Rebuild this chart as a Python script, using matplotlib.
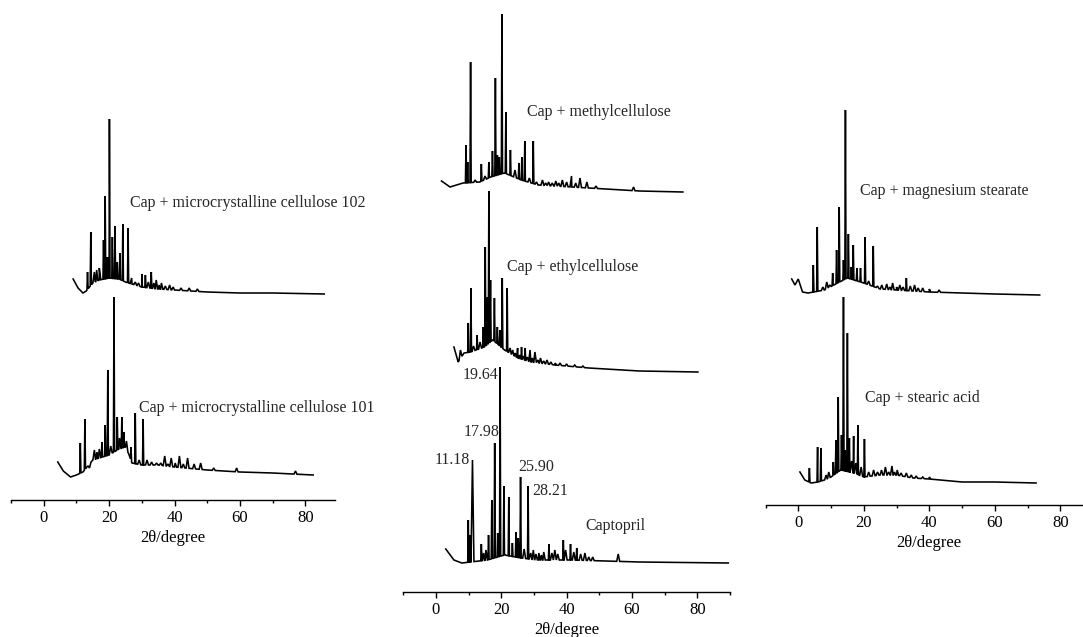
import numpy as np
import matplotlib.pyplot as plt
from matplotlib.ticker import MultipleLocator

plt.rcParams['font.family'] = ['Liberation Serif', 'DejaVu Serif']

# --- left panel: Cap + microcrystalline cellulose 102 / 101 ---
mcc102_base_x = [9.0, 10.5, 12.0, 13.0, 15.0, 17.0, 20.0, 23.0, 25.0, 27.0, 30.0, 35.0, 40.0, 45.0, 50.0, 60.0, 70.0, 85.8]
mcc102_base_y = [15, 6, 1, 3, 11, 14, 16, 15, 12, 10, 7, 5, 4, 3, 2, 1, 1, 0]
mcc102_peak_x = [13.4, 14.4, 15.5, 16.2, 17.0, 18.3, 18.8, 19.5, 20.1, 21.0, 21.8, 22.5, 23.3, 24.2, 25.8, 26.9,
                 28.0, 29.0, 30.0, 31.1, 32.0, 32.9, 33.7, 34.4, 35.3, 36.0, 37.2, 38.5, 39.6, 42.0, 44.5, 47.0]
mcc102_peak_y = [22, 62, 22, 24, 26, 54, 98, 37, 175, 57, 68, 32, 41, 70, 66, 16,
                 12, 11, 20, 19, 12, 22, 11, 14, 9, 11, 8, 9, 7, 6, 6, 5]

mcc101_base_x = [4.3, 6.0, 8.2, 10.0, 12.0, 15.0, 20.0, 23.0, 25.0, 26.0, 27.0, 30.0, 35.0, 40.0, 50.0, 60.0, 70.0, 82.4]
mcc101_base_y = [14, 5, -1, 1, 4, 16, 21, 27, 29, 22, 13, 11, 11, 9, 6, 4, 3, 1]
mcc101_peak_x = [11.2, 12.6, 14.0, 15.5, 16.3, 17.0, 17.8, 18.8, 19.6, 20.5, 21.5, 22.5, 23.2, 23.9, 24.5, 25.3,
                 26.7, 28.0, 29.2, 30.4, 31.6, 33.0, 34.5, 35.8, 37.0, 38.0, 39.0, 40.2, 41.5, 42.7, 44.0, 46.0,
                 48.0, 52.0, 59.0, 77.0]
mcc101_peak_y = [33, 57, 8, 26, 24, 27, 34, 51, 106, 30, 179, 59, 38, 59, 44, 35,
                 29, 63, 16, 57, 16, 14, 13, 13, 20, 12, 18, 13, 20, 12, 18, 12,
                 13, 8, 8, 5]

# --- middle panel: methylcellulose / ethylcellulose / captopril ---
mc_base_x = [1.7, 4.3, 8.3, 13.4, 16.8, 21.0, 26.1, 31.3, 41.6, 52.0, 62.3, 75.6]
mc_base_y = [11, 5, 9, 10, 15, 19, 12, 7, 5, 3, 1, 0]
mc_peak_x = [9.2, 9.7, 10.6, 12.0, 13.9, 15.0, 16.2, 17.3, 18.2, 18.8, 19.4, 20.2, 21.4, 22.8, 24.2, 25.4, 26.3,
             27.2, 28.6, 29.8, 30.8, 32.6, 33.6, 34.5, 35.6, 36.7, 37.6, 38.7, 40.0, 41.5, 42.8, 44.1, 46.2,
             49.0, 60.5]
mc_peak_y = [47, 30, 130, 12, 28, 16, 30, 41, 114, 37, 35, 178, 80, 42, 22, 29, 35,
             51, 14, 51, 10, 12, 9, 10, 9, 11, 9, 12, 10, 16, 9, 14, 10,
             6, 5]

ec_base_x = [5.5, 6.8, 8.6, 10.6, 14.8, 17.4, 21.0, 25.1, 29.2, 36.5, 46.8, 62.3, 80.2]
ec_base_y = [25, 10, 19, 20, 25, 32, 22, 14, 10, 7, 4, 1, 0]
ec_peak_x = [7.5, 9.9, 10.7, 11.5, 12.6, 13.5, 14.5, 15.1, 15.7, 16.2, 16.7, 17.9, 18.8, 19.6, 20.3, 21.8, 22.7,
             23.5, 24.3, 25.0, 25.6, 26.2, 26.8, 27.3, 28.0, 28.8, 29.5, 30.3, 31.2, 32.0, 33.0, 34.0, 35.2,
             36.5, 38.0, 40.0, 42.5, 45.0]
ec_peak_y = [22, 49, 84, 26, 37, 30, 45, 125, 75, 181, 92, 74, 45, 42, 94, 84, 24,
             22, 19, 24, 17, 25, 16, 24, 15, 22, 14, 20, 12, 14, 11, 12, 10,
             9, 9, 8, 7, 6]

cap_base_x = [3.0, 5.5, 7.9, 10.6, 15.8, 21.0, 26.1, 31.3, 41.6, 52.0, 62.3, 89.5]
cap_base_y = [14, 3, 0, 1, 3, 8, 5, 3, 3, 2, 1, 0]
cap_peak_x = [9.9, 10.4, 11.18, 13.9, 14.6, 15.3, 16.1, 17.1, 17.98, 18.9, 19.64, 20.8, 22.3, 23.4, 24.5, 25.2,
              25.90, 27.0, 28.21, 29.0, 29.8, 30.6, 31.5, 32.3, 33.0, 34.6, 35.5, 36.4, 37.3, 39.0, 39.7, 41.2,
              42.2, 43.1, 44.3, 45.6, 46.8, 48.0, 55.8]
cap_peak_y = [43, 28, 103, 19, 10, 13, 28, 63, 120, 30, 196, 77, 66, 20, 31, 25,
              86, 14, 77, 10, 13, 9, 10, 8, 11, 19, 10, 13, 9, 23, 13, 19,
              11, 15, 9, 10, 6, 6, 9]
cap_marked = [11.18, 17.98, 19.64, 25.90, 28.21]

# --- right panel: magnesium stearate / stearic acid ---
mgst_base_x = [-2.0, -1.0, 0.0, 1.3, 3.0, 8.0, 12.0, 15.0, 20.0, 25.0, 30.0, 40.0, 50.0, 60.0, 73.7]
mgst_base_y = [16, 10, 16, 3, 2, 5, 12, 17, 12, 6, 5, 3, 2, 1, 0]
mgst_peak_x = [4.6, 5.8, 7.5, 8.7, 9.6, 10.5, 11.7, 12.5, 13.8, 14.4, 15.3, 16.2, 16.8, 17.9, 19.0, 20.4, 21.5,
               22.9, 24.2, 25.5, 27.0, 28.0, 28.8, 30.0, 31.0, 32.0, 33.0, 34.2, 35.5, 36.6, 38.0, 40.0, 43.0]
mgst_peak_y = [30, 68, 8, 13, 10, 22, 45, 88, 35, 185, 61, 28, 50, 27, 27, 58, 14,
               49, 9, 10, 11, 8, 12, 8, 10, 8, 17, 9, 10, 7, 7, 6, 5]

sa_base_x = [0.5, 2.0, 3.9, 6.0, 8.0, 10.0, 13.0, 17.0, 20.0, 25.0, 30.0, 35.0, 40.0, 50.0, 60.0, 72.6]
sa_base_y = [11, 3, 0, 1, 3, 6, 13, 10, 6, 8, 8, 5, 4, 1, 1, 0]
sa_peak_x = [3.4, 5.9, 6.9, 8.5, 9.3, 10.7, 11.5, 12.2, 13.2, 13.8, 14.3, 15.0, 15.6, 16.3, 16.9, 17.6, 18.2,
             19.2, 20.2, 21.5, 23.0, 24.2, 25.4, 26.6, 27.6, 28.6, 29.4, 30.2, 31.4, 33.0, 34.5, 36.0, 38.0,
             40.0]
sa_peak_y = [15, 36, 35, 8, 11, 21, 43, 86, 48, 186, 33, 150, 45, 22, 47, 20, 58,
             16, 44, 11, 13, 11, 13, 16, 11, 17, 11, 13, 10, 10, 8, 7, 6,
             6]

# vertical stacking offsets of each pattern
left_offsets = [206, 24]
mid_offsets = [400, 220, 29]
right_offsets = [210, 22]


def pattern(base_x, base_y, peak_x, peak_y):
    """Join the background points and the reflections into one trace."""
    bx = np.asarray(base_x, float)
    by = np.asarray(base_y, float)
    xs, ys = list(bx), list(by)
    for p, h in zip(peak_x, peak_y):
        foot = np.interp(p, bx, by)
        # strong reflections are sharp, weak ones are drawn as low bumps
        w = 0.18 if h - foot > 12 else 0.45
        if p == 11.18:
            w = 0.45
        for dx in (-w, w):
            xs.append(p + dx)
            ys.append(np.interp(p + dx, bx, by))
        xs.append(p)
        ys.append(h)
    xs = np.array(xs)
    ys = np.array(ys)
    order = np.argsort(xs, kind='stable')
    return xs[order], ys[order]


W, H = 1083, 637
fig = plt.figure(figsize=(W / 100, H / 100), dpi=100)


def make_axes(x0, px_per_deg, axis_y, xmax):
    left = x0 / W
    width = (xmax + 10) * px_per_deg / W
    ax = fig.add_axes([left, (H - axis_y) / H, width, axis_y / H])
    ax.set_xlim(-10, xmax)
    ax.set_ylim(0, axis_y)
    for s in ('left', 'right', 'top'):
        ax.spines[s].set_visible(False)
    ax.spines['bottom'].set_linewidth(1.0)
    ax.set_yticks([])
    ax.xaxis.set_major_locator(MultipleLocator(20))
    ax.xaxis.set_minor_locator(MultipleLocator(10))
    ax.tick_params(axis='x', which='major', direction='out', length=4, width=1.0, labelsize=12, pad=3)
    ax.tick_params(axis='x', which='minor', direction='out', length=2.5, width=1.0)
    ax.set_xlabel('2θ/degree', fontsize=12, labelpad=3)
    ax.patch.set_alpha(0)
    return ax


ax_l = make_axes(11, 3.27, 500, 89)
ax_m = make_axes(403.3, 3.266, 592, 90)
ax_r = make_axes(765.5, 3.276, 505, 90)

line_kw = dict(color='black', lw=1.15, solid_joinstyle='miter')
txt_kw = dict(fontsize=11.5, color='#262626', va='center')

traces = [
    (ax_l, left_offsets[0], mcc102_base_x, mcc102_base_y, mcc102_peak_x, mcc102_peak_y),
    (ax_l, left_offsets[1], mcc101_base_x, mcc101_base_y, mcc101_peak_x, mcc101_peak_y),
    (ax_m, mid_offsets[0], mc_base_x, mc_base_y, mc_peak_x, mc_peak_y),
    (ax_m, mid_offsets[1], ec_base_x, ec_base_y, ec_peak_x, ec_peak_y),
    (ax_m, mid_offsets[2], cap_base_x, cap_base_y, cap_peak_x, cap_peak_y),
    (ax_r, right_offsets[0], mgst_base_x, mgst_base_y, mgst_peak_x, mgst_peak_y),
    (ax_r, right_offsets[1], sa_base_x, sa_base_y, sa_peak_x, sa_peak_y),
]
for ax, off, bx, by, px, py in traces:
    x, y = pattern(bx, by, px, py)
    ax.plot(x, y + off, **line_kw)

ax_l.text(26.5, 297, 'Cap + microcrystalline cellulose 102', **txt_kw)
ax_l.text(29.0, 92, 'Cap + microcrystalline cellulose 101', **txt_kw)
ax_m.text(27.9, 480, 'Cap + methylcellulose', **txt_kw)
ax_m.text(21.7, 325, 'Cap + ethylcellulose', **txt_kw)
ax_m.text(45.6, 66, 'Captopril', **txt_kw)
ax_r.text(18.8, 314, 'Cap + magnesium stearate', **txt_kw)
ax_r.text(20.3, 107, 'Cap + stearic acid', **txt_kw)

# positions of the main captopril reflections
label_pos = {11.18: (10.4, 132, 'right'), 17.98: (19.4, 160, 'right'), 19.64: (19.1, 217, 'right'),
             25.90: (25.2, 125, 'left'), 28.21: (29.6, 101, 'left')}
for p in cap_marked:
    lx, ly, ha = label_pos[p]
    ax_m.text(lx, ly, f'{p:.2f}', fontsize=11.5, color='#262626', va='center', ha=ha)

fig.savefig('out.png', dpi=100)
